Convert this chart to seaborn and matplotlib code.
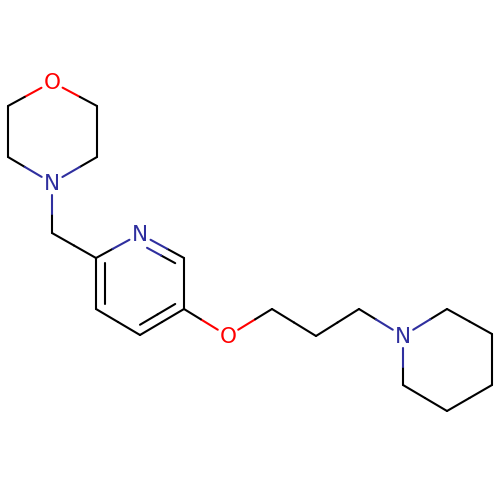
import numpy as np
import pandas as pd
import matplotlib.pyplot as plt
import seaborn as sns

# atom positions (pixels, y pointing down)
atom_names = ["O1", "C2", "C3", "N4", "C5", "C6", "C7", "C8", "N9", "C10", "C11", "C12", "C13",
              "O14", "C15", "C16", "C17", "N18", "C19", "C20", "C21", "C22", "C23"]
atom_x = [52, 97, 97, 52, 8, 8, 52, 96, 140, 184, 184, 140, 96,
          228, 272, 316, 359, 403, 447, 492, 492, 447, 403]
atom_y = [82, 106, 157, 183, 157, 106, 233, 258, 234, 258, 309, 335, 309,
          336, 309, 336, 309, 336, 309, 334, 385, 411, 385]

bonds = [("O1", "C2"), ("C2", "C3"), ("C3", "N4"), ("N4", "C5"), ("C5", "C6"), ("C6", "O1"),
         ("N4", "C7"), ("C7", "C8"), ("C8", "N9"), ("N9", "C10"), ("C10", "C11"), ("C11", "C12"),
         ("C12", "C13"), ("C13", "C8"), ("C11", "O14"), ("O14", "C15"), ("C15", "C16"),
         ("C16", "C17"), ("C17", "N18"), ("N18", "C19"), ("C19", "C20"), ("C20", "C21"),
         ("C21", "C22"), ("C22", "C23"), ("C23", "N18")]
double_bonds = [("C8", "C13"), ("N9", "C10"), ("C11", "C12")]
pyridine_ring = ["C8", "N9", "C10", "C11", "C12", "C13"]

element_colors = {"C": "#000000", "N": "#2f2f9f", "O": "#ff0000"}

pos = {n: np.array([x, y], dtype=float) for n, x, y in zip(atom_names, atom_x, atom_y)}
ring_center = np.mean([pos[n] for n in pyridine_ring], axis=0)


def trim(start, end, name_a, name_b, gap):
    # pull the line back from heteroatom labels
    unit = (end - start) / np.linalg.norm(end - start)
    a = start + unit * gap if name_a[0] != "C" else start
    b = end - unit * gap if name_b[0] != "C" else end
    return a, b


rows = []
bond_id = 0


def add_bond(a, b, name_a, name_b):
    global bond_id
    mid = (a + b) / 2
    for p, q, name in [(a, mid, name_a), (mid, b, name_b)]:
        for point in (p, q):
            rows.append({"bond": bond_id, "x": point[0], "y": point[1], "element": name[0]})
        bond_id += 1


for name_a, name_b in bonds:
    a, b = trim(pos[name_a], pos[name_b], name_a, name_b, 12)
    add_bond(a, b, name_a, name_b)

for name_a, name_b in double_bonds:
    inner_a = pos[name_a] + 0.2 * (ring_center - pos[name_a])
    inner_b = pos[name_b] + 0.2 * (ring_center - pos[name_b])
    a, b = trim(inner_a, inner_b, name_a, name_b, 8)
    add_bond(a, b, name_a, name_b)

df = pd.DataFrame(rows)

sns.set_style("white")
fig = plt.figure(figsize=(5, 5), dpi=100)
ax = fig.add_axes([0, 0, 1, 1])
sns.lineplot(data=df, x="x", y="y", hue="element", palette=element_colors, units="bond",
             estimator=None, sort=False, legend=False, linewidth=1.5, ax=ax,
             solid_capstyle="round")

for name in atom_names:
    if name[0] != "C":
        ax.text(pos[name][0], pos[name][1] - 1, name[0], color=element_colors[name[0]],
                fontsize=15.5, ha="center", va="center_baseline", family="DejaVu Sans")

ax.set_xlim(0, 500)
ax.set_ylim(500, 0)
ax.axis("off")
fig.savefig("out.png", dpi=100)
plt.close(fig)
